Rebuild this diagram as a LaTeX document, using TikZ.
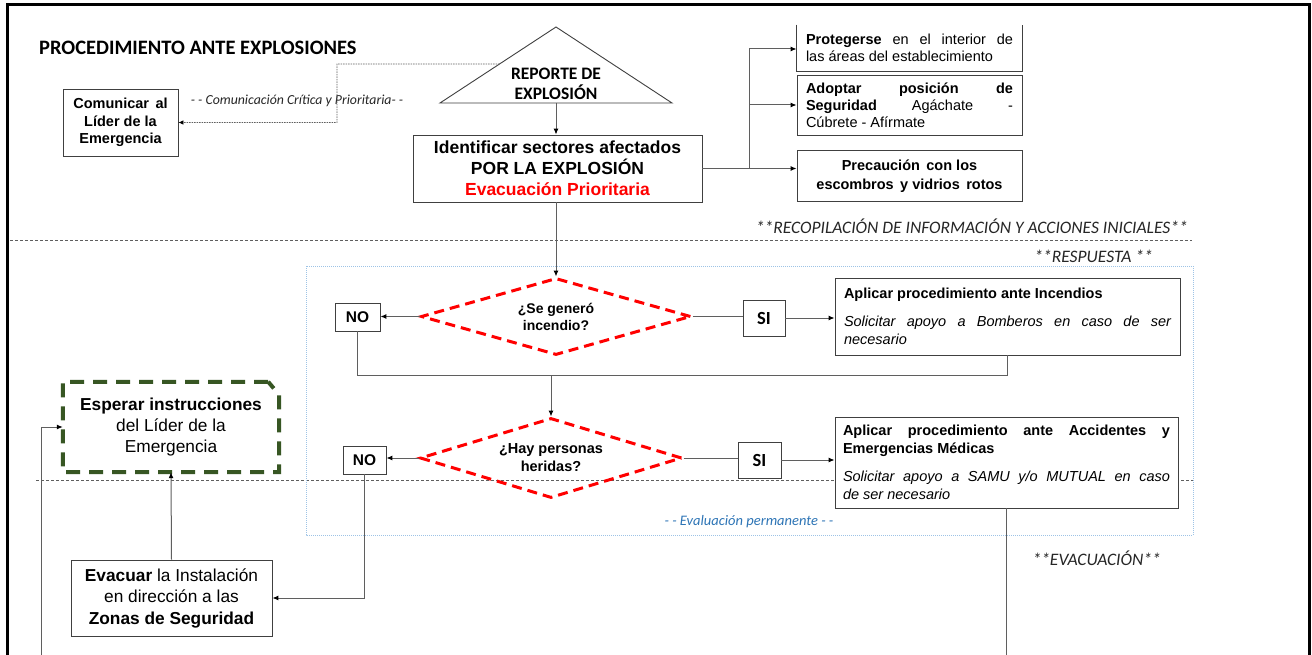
\documentclass[tikz,border=0pt]{standalone}
\usepackage{fontspec}
\setmainfont{Liberation Sans}
\newfontfamily\calfont{Carlito}
\usetikzlibrary{arrows.meta,shapes.geometric,calc}
\definecolor{boxc}{HTML}{404040}
\definecolor{linec}{HTML}{5F5F5F}
\definecolor{redc}{HTML}{FF0000}
\definecolor{greenc}{HTML}{375623}
\definecolor{bluebox}{HTML}{9DC3E6}
\definecolor{bluetxt}{HTML}{2E75B6}
\definecolor{txtc}{HTML}{262626}
\begin{document}
\begin{tikzpicture}[x=1pt,y=-1pt,
  box/.style={draw=boxc, line width=0.9pt, fill=white, inner sep=0pt, align=center},
  conn/.style={draw=linec, line width=1pt},
  arr/.style={conn, -{Latex[length=6pt,width=5pt,color=black]}},
  dotarr/.style={draw=linec, line width=0.7pt, dash pattern=on 1.5pt off 1pt, -{Latex[length=5pt,width=4.5pt,color=black]}},
  secdash/.style={draw=linec, line width=0.8pt, dash pattern=on 3pt off 2pt},
  dia/.style={diamond, draw=redc, line width=3pt, dash pattern=on 10pt off 6pt, inner sep=0pt, aspect=3.5, align=center},
  lbl/.style={font=\calfont\itshape\fontsize{17.5}{20}\selectfont, text=txtc, inner sep=0pt},
  sbox/.style={box, font=\fontsize{14.5}{17}\selectfont, text width=207, align=justify, minimum width=225},
  apbox/.style={box, font=\fontsize{14.5}{18}\selectfont, text width=327, align=justify},
  nobox/.style={box, font=\bfseries\fontsize{15.5}{17}\selectfont},
  sibox/.style={box, font=\calfont\bfseries\fontsize{18.5}{20}\selectfont}
]
\useasboundingbox (0,0) rectangle (1312,655);
\fill[white] (0,0) rectangle (1312,655);

% frame
\draw[line width=3pt] (7,655) -- (7,5) -- (1309,5) -- (1309,655);

% section lines and response area
\draw[secdash] (10,240) -- (1192,240);
\draw[secdash] (36,480) -- (1195,480);
\draw[draw=bluebox, line width=1pt, dash pattern=on 1pt off 1pt] (306,266) rectangle (1193,535);

% title and labels
\node[anchor=west, font=\calfont\bfseries\fontsize{20.5}{24}\selectfont, inner sep=0pt] (title) at (39,48) {PROCEDIMIENTO ANTE EXPLOSIONES};
\node[font=\calfont\itshape\fontsize{13.8}{16}\selectfont, text=txtc, inner sep=0pt] (lblcom) at (297,101) {- - Comunicación Crítica y Prioritaria- -};
\node[lbl, anchor=east] (lrec) at (1188,226) {**RECOPILACIÓN DE INFORMACIÓN Y ACCIONES INICIALES**};
\node[lbl, anchor=east] (lresp) at (1153,256) {**RESPUESTA **};
\node[lbl, anchor=east] (levac) at (1161,558) {**EVACUACIÓN**};
\node[font=\calfont\itshape\fontsize{14.5}{16}\selectfont, text=bluetxt, inner sep=0pt] (leval) at (749,522) {- - Evaluación permanente - -};

% triangle
\coordinate (tA) at (556,27);
\coordinate (tL) at (440,103);
\coordinate (tR) at (672,103);
\draw[draw=boxc, line width=0.9pt, fill=white] (tA) -- (tL) -- (tR) -- cycle;
\node[font=\calfont\bfseries\fontsize{17.5}{20}\selectfont, align=center, inner sep=0pt] (rep) at (556,84) {REPORTE DE\\EXPLOSIÓN};
\coordinate (tP) at ($(tA)!0.487!(tL)$);
\coordinate (cbend) at (337,64);

% boxes
\node[box, minimum width=115, minimum height=67, font=\bfseries\fontsize{14.5}{17.5}\selectfont] (com) at (120.5,122.5) {Comunicar \,al\\Líder de la\\Emergencia};
\node[box, minimum width=289, minimum height=67, font=\bfseries\fontsize{17.5}{21}\selectfont] (idn) at (557.5,168.5) {Identificar sectores afectados\\POR LA EXPLOSIÓN\\\textcolor{redc}{Evacuación Prioritaria}};

\node[sbox, draw=none, minimum height=46] (b1) at (909.5,48) {{\bfseries Protegerse} en el interior de\linebreak las áreas del establecimiento};
\draw[draw=boxc, line width=0.9pt] (b1.north west) |- (b1.south east) -- (b1.north east);
\node[sbox, minimum height=60] (b2) at (909.5,105) {{\bfseries Adoptar posición de\linebreak Seguridad} Agáchate -\linebreak Cúbrete - Afírmate};
\node[box, minimum width=225, minimum height=51, font=\bfseries\fontsize{14.5}{19}\selectfont] (b3) at (909.5,176) {Precaución \,con los\\escombros \,y vidrios \,rotos};

\node[dia, minimum width=270, minimum height=77, font=\bfseries\fontsize{14}{17}\selectfont] (d1) at (556,316.5) {¿Se generó\\incendio?};
\node[nobox, minimum width=45, minimum height=28] (no1) at (357.5,317) {NO};
\node[sibox, minimum width=42, minimum height=36] (si1) at (764,318) {SI};
\node[apbox, minimum width=345, minimum height=77] (ap1) at (1007.5,316.5) {{\bfseries Aplicar procedimiento ante Incendios}\par\vspace{10pt}{\itshape Solicitar apoyo a Bomberos en caso de ser\linebreak necesario}};

\coordinate (m1) at (551,375);
\node[dia, minimum width=262, minimum height=80, font=\bfseries\fontsize{14.5}{18}\selectfont] (d2) at (551,458) {¿Hay personas\\heridas?};
\node[nobox, minimum width=43, minimum height=28] (no2) at (364.5,460) {NO};
\node[sibox, minimum width=43, minimum height=36] (si2) at (759.5,460) {SI};
\node[apbox, minimum width=343, minimum height=91] (ap2) at (1006.5,462.5) {{\bfseries Aplicar procedimiento ante Accidentes y\linebreak Emergencias Médicas}\par\vspace{10pt}{\itshape Solicitar apoyo a SAMU y/o MUTUAL en caso\linebreak de ser necesario}};

\node[minimum width=216, minimum height=90, inner sep=0pt, align=center, font=\fontsize{17.3}{21}\selectfont] (esp) at (171,427) {{\bfseries Esperar instrucciones}\\del Líder de la\\Emergencia};
\draw[draw=greenc, line width=4pt, dash pattern=on 14pt off 9pt] ([xshift=-11pt]esp.north east) -- (esp.north west) -- (esp.south west) -- (esp.south east) -- ([yshift=-13pt]esp.north east) -- cycle;
\node[box, minimum width=201, minimum height=76, font=\fontsize{17.3}{21.5}\selectfont] (evac) at (171.5,598) {{\bfseries Evacuar} la Instalación\\en dirección a las\\{\bfseries Zonas de Seguridad}};

\coordinate (busT) at (749,49);
\coordinate (lb) at (41,655);
\coordinate (bb) at (1006.5,655);

% connectors
\draw[dotarr] (tP) -- (cbend) |- (com.east);
\draw[arr] (tA |- tL) -- (tA |- idn.north);
\draw[conn] (busT) -- (busT |- idn.east);
\draw[arr] (busT) -- (busT -| b1.west);
\draw[arr] (busT |- b2.west) -- (b2.west);
\draw[arr] (idn.east) -- (idn.east -| b3.west);
\draw[arr] (idn.south -| d1.north) -- (d1.north);
\draw[arr] (d1.west) -- (no1.east |- d1.west);
\draw[conn] (d1.east) -- (si1.west |- d1.east);
\draw[arr] (si1.east) -- (si1.east -| ap1.west);
\draw[conn] (no1.south) |- (ap1.south |- m1) -- (ap1.south);
\draw[arr] (m1) -- (d2.north);
\draw[arr] (d2.west) -- (no2.east |- d2.west);
\draw[conn] (d2.east) -- (si2.west |- d2.east);
\draw[arr] (si2.east) -- (si2.east -| ap2.west);
\draw[conn] (ap2.south) -- (bb);
\draw[arr] (no2.south) |- (evac.east);
\draw[arr] (evac.north) -- (esp.south);
\draw[arr] (lb) |- (esp.west);
\end{tikzpicture}
\end{document}
